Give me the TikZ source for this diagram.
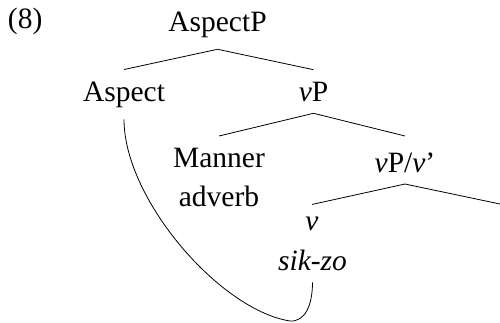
\documentclass[tikz,border=0pt]{standalone}
\usepackage{fontspec}
\setmainfont{Liberation Serif}
\begin{document}
\begin{tikzpicture}[x=1pt,y=-1pt,
  tn/.style={inner sep=0pt, outer xsep=0pt, outer ysep=12pt, anchor=base,
    font=\fontsize{29.5}{39}\selectfont},
  br/.style={line width=0.8pt},
  mv/.style={line width=0.8pt}]
\useasboundingbox (0,0) rectangle (500,322);
\node[tn, anchor=base west] (num) at (8,28) {(8)};
\node[tn] (aspp) at (217.5,31) {AspectP};
\node[tn] (asp) at (124,101) {Aspect};
\node[tn] (vp) at (313.5,101) {\textit{v}P};
\node[tn, anchor=north, align=center] (man) at (219,136) {Manner\\adverb};
\node[tn, text height=24pt, text depth=0pt] (vpv) at (405,172) {\textit{v}P/\textit{v}'};
\node[tn] (v) at (312,230) {\textit{v}};
\node[tn] (sik) at (312.5,270) {\textit{sik-zo}};
\coordinate (rt) at (500,204);
\coordinate (bot) at (290,321);
\draw[br] (aspp.south) -- (asp.north);
\draw[br] (aspp.south) -- (vp.north);
\draw[br] (vp.south) -- (man.north);
\draw[br] (vp.south) -- (vpv.north);
\draw[br] (vpv.south) -- (v.north);
\draw[br] (vpv.south) -- (rt);
\draw[mv] (asp.south) .. controls +(0,80) and +(-70,-11) .. (bot)
  .. controls +(15,1) and +(0,23) .. (sik.south);
\end{tikzpicture}
\end{document}
